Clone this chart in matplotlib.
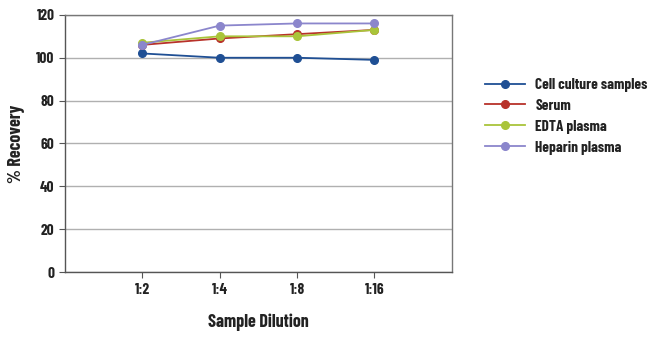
"""Percent recovery by sample dilution"""

import matplotlib.pyplot as plt

dilutions = ["1:2", "1:4", "1:8", "1:16"]
cell_culture = [102, 100, 100, 99]
serum = [106, 109, 111, 113]
edta_plasma = [107, 110, 110, 113]
heparin_plasma = [106, 115, 116, 116]


def main():
    plt.rcParams['font.family'] = ['Barlow Condensed', 'Asap Condensed', 'Liberation Sans Narrow', 'DejaVu Sans']
    plt.rcParams['font.weight'] = 'bold'
    fig = plt.figure(figsize=(6.5, 3.38), dpi=100)
    ax = fig.add_axes([0.1, 0.195, 0.595, 0.761])
    x = range(len(dilutions))
    series = [
        ("Cell culture samples", cell_culture, "#1f4f94"),
        ("Serum", serum, "#b8322a"),
        ("EDTA plasma", edta_plasma, "#a9c43a"),
        ("Heparin plasma", heparin_plasma, "#8b86cc"),
    ]
    for name, vals, col in series:
        ax.plot(x, vals, color=col, marker="o", markersize=5.5, linewidth=1.3, label=name)
    ax.set_xlim(-1, 4)
    ax.set_ylim(0, 120)
    ax.set_yticks(range(0, 121, 20))
    ax.set_xticks(list(x))
    ax.set_xticklabels(dilutions)
    ax.grid(axis="y", color="#b0b0b0", linewidth=1)
    ax.set_axisbelow(True)
    for s in ax.spines.values():
        s.set_color("#555555")
        s.set_linewidth(1)
    ax.spines["top"].set_color("#777777")
    ax.spines["right"].set_color("#777777")
    ax.tick_params(axis="both", labelsize=11, colors="#555555", labelcolor="#222222", length=4)
    ax.set_xlabel("Sample Dilution", fontsize=13, fontweight="bold", color="#222222", labelpad=12)
    ax.set_ylabel("% Recovery", fontsize=13, fontweight="bold", color="#222222", labelpad=8)
    fig.legend(loc="upper left", bbox_to_anchor=(0.725, 0.81), frameon=False,
               fontsize=11, handlelength=2.6, labelspacing=0.45, handletextpad=0.7,
               labelcolor="#222222")
    fig.savefig("out.png", dpi=100)


main()
